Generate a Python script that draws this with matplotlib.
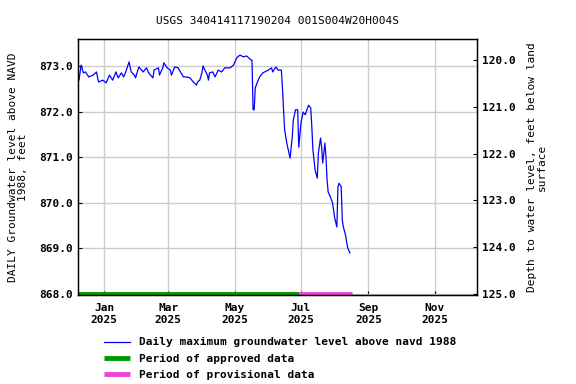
import matplotlib
matplotlib.use("Agg")
import matplotlib.pyplot as plt
import datetime as dt

# Data: day offsets from 2025-01-01 and levels (ft above NAVD 1988)
day_offsets = [-24, -23, -21, -19, -17, -14, -10, -7, -5, -1, 2, 5, 8, 11, 13, 16, 18, 20, 23, 25,
               28, 29, 32, 36, 39, 41, 45, 46, 50, 51, 54, 55, 58, 61, 62, 65, 68, 73, 76, 79,
               82, 85, 86, 88, 90, 91, 95, 96, 97, 100, 102, 105, 108, 111, 116, 119, 122, 125, 128, 131,
               133, 135, 136, 137, 138, 139, 141, 143, 146, 151, 154, 155, 158, 160, 163, 164, 165, 166, 168, 171,
               173, 174, 176, 178, 179, 181, 183, 185, 187, 188, 190, 191, 192, 194, 196, 197, 199, 200, 201, 203,
               204, 205, 206, 208, 210, 211, 212, 214, 215, 216, 218, 219, 220, 222, 223, 224, 226]
levels = [872.78, 872.69, 873.02, 872.85, 872.87, 872.76, 872.80, 872.87, 872.65, 872.69,
          872.63, 872.80, 872.69, 872.87, 872.74, 872.85, 872.76, 872.87, 873.09, 872.87,
          872.80, 872.74, 872.98, 872.87, 872.96, 872.85, 872.74, 872.91, 872.96, 872.80,
          872.96, 873.07, 872.96, 872.91, 872.80, 872.98, 872.96, 872.76, 872.76, 872.74,
          872.65, 872.58, 872.65, 872.69, 872.85, 873.00, 872.80, 872.69, 872.85, 872.87,
          872.76, 872.91, 872.87, 872.96, 872.96, 873.02, 873.18, 873.24, 873.20, 873.22,
          873.18, 873.13, 873.13, 872.04, 872.04, 872.52, 872.65, 872.76, 872.85, 872.91,
          872.96, 872.87, 872.98, 872.91, 872.91, 872.52, 872.04, 871.60, 871.31, 870.98,
          871.44, 871.82, 872.04, 872.04, 871.22, 871.75, 871.99, 871.93, 872.08, 872.14,
          872.08, 871.66, 871.16, 870.72, 870.54, 871.09, 871.42, 871.22, 870.87, 871.31,
          871.00, 870.50, 870.24, 870.13, 870.00, 869.84, 869.67, 869.47, 870.35, 870.43,
          870.35, 869.62, 869.47, 869.29, 869.14, 869.01, 868.90]

approved_period = ["2024-12-08", "2025-06-29"]
provisional_period = ["2025-06-29", "2025-08-17"]

title = "USGS 340414117190204 001S004W20H004S"
left_label = "DAILY Groundwater level above NAVD\n1988, feet"
right_label = "Depth to water level, feet below land\nsurface"
left_ticks = [868.0, 869.0, 870.0, 871.0, 872.0, 873.0]
right_ticks = [120.0, 121.0, 122.0, 123.0, 124.0, 125.0]
legend_labels = ["Daily maximum groundwater level above navd 1988",
                 "Period of approved data", "Period of provisional data"]

plt.rcParams['font.family'] = ['DejaVu Sans Mono']
plt.rcParams['font.weight'] = 'bold'
plt.rcParams['font.size'] = 8

base = dt.datetime(2025, 1, 1)
dates = [base + dt.timedelta(days=d) for d in day_offsets]

fig = plt.figure(figsize=(5.76, 3.84), dpi=100)
ax = fig.add_axes([78/576, 1-295/384, (477-78)/576, (295-39)/384])

ax.plot(dates, levels, color='#0000ff', lw=0.9, label=legend_labels[0])
ap = [dt.datetime.fromisoformat(s) for s in approved_period]
pp = [dt.datetime.fromisoformat(s) for s in provisional_period]
ax.plot(ap, [868.0, 868.0], color='#009900', lw=3.5, solid_capstyle='butt', label=legend_labels[1])
ax.plot(pp, [868.0, 868.0], color='#ee44dd', lw=3.5, solid_capstyle='butt', label=legend_labels[2])

xmin = base + dt.timedelta(days=-23.9)
xmax = base + dt.timedelta(days=342.8)
ax.set_xlim(xmin, xmax)
ax.set_ylim(868 - 1/45.6, 873 + 27/45.6)
ax.set_yticks(left_ticks)
ax.set_yticklabels([f"{v:.1f}" for v in left_ticks])

month_ticks = [dt.datetime(2025, m, 1) for m in (1, 3, 5, 7, 9, 11)]
ax.set_xticks(month_ticks)
ax.set_xticklabels([d.strftime("%b\n%Y") for d in month_ticks])

ax.grid(True, color='#cccccc', lw=1.0)
ax.set_axisbelow(True)
ax.tick_params(direction='in', length=3, width=0.8, which='both')
ax.tick_params(axis='x', pad=6)
for s in ax.spines.values():
    s.set_linewidth(1.0)

ax.set_ylabel(left_label, labelpad=8, linespacing=1.0)

ax2 = ax.twinx()
ax2.set_ylim(125 + 1/46.8, 120 - 21/46.8)
ax2.set_yticks(right_ticks)
ax2.set_yticklabels([f"{v:.1f}" for v in right_ticks])
ax2.tick_params(direction='in', length=3, width=0.8)
ax2.set_ylabel(right_label, labelpad=8, linespacing=1.0)

ax.set_title(title, fontsize=8, pad=11)

leg = fig.legend(loc='upper left', bbox_to_anchor=(100/576, 1-333/384), frameon=False,
                 handlelength=2.3, handletextpad=0.8, labelspacing=0.55, borderaxespad=0)

fig.savefig("out.png", dpi=100)
